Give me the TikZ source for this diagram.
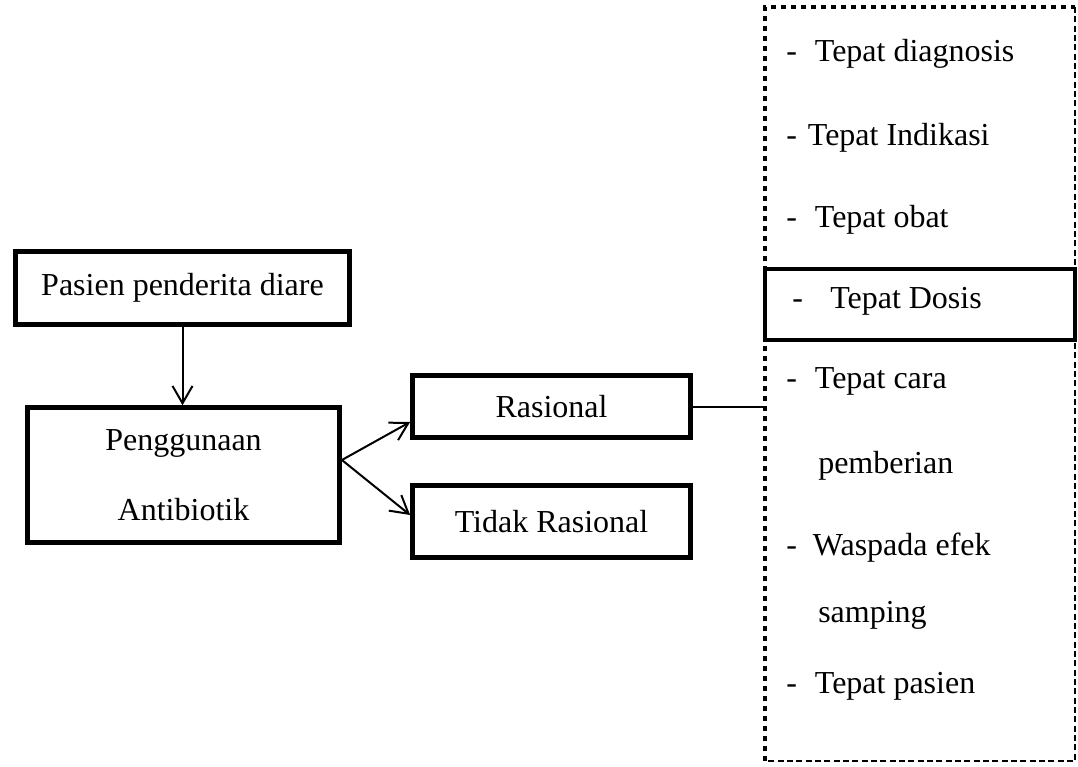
\documentclass[tikz,border=0pt]{standalone}
\usepackage{fontspec}
\setmainfont{Liberation Serif}
\usetikzlibrary{arrows.meta,positioning,calc}
\tikzset{
  box/.style={draw=black, line width=3.6pt, align=center, inner sep=0pt, font=\fontsize{24}{52.5}\selectfont},
  item/.style={anchor=base west, inner sep=0pt, font=\fontsize{24}{28}\selectfont},
  arrow/.style={-{Straight Barb[length=13pt, width=15pt, line width=1.5pt]}, line width=1.5pt, draw=black},
  link/.style={line width=1.5pt, draw=black},
  thickdots/.style={line width=3pt, dash pattern=on 3.75pt off 3.75pt},
  thindash/.style={line width=1.5pt, dash pattern=on 4.5pt off 2.5pt}
}
\begin{document}
\begin{tikzpicture}[x=0.75pt, y=-0.75pt]
  \useasboundingbox (0,0) rectangle (1078,767);

  % left part
  \node[box, minimum width=250.5pt, minimum height=54.75pt] (pasien) at (182.5,288) {Pasien penderita diare};
  \node[box, minimum width=234pt, minimum height=101pt] (guna) at (183.5,475) {Penggunaan\\Antibiotik};
  \node[box, minimum width=208.5pt, minimum height=46.5pt] (rasional) at (551.5,406.5) {Rasional};
  \node[box, minimum width=208.5pt, minimum height=54pt] (tidak) at (551.5,521.5) {Tidak Rasional};

  % criteria frame
  \coordinate (ktl) at (765,7);
  \coordinate (kbr) at (1075,761);
  \draw[thickdots] (ktl |- kbr) -- (ktl) -- (ktl -| kbr);
  \draw[thindash] (ktl -| kbr) -- (kbr) -- (ktl |- kbr);
  \node[draw=black, line width=3pt, inner sep=0pt, minimum width=232.5pt, minimum height=53.25pt] (dosisbox) at (920,304.5) {};

  \node[item] (diagnosis) at (786,62) {-\hspace{13.5pt}Tepat diagnosis};
  \node[item] (indikasi) at (786,145) {-\hspace{8.25pt}Tepat Indikasi};
  \node[item] (obat) at (786,227) {-\hspace{13.5pt}Tepat obat};
  \node[item] (dosis) at (792,308) {-\hspace{20.5pt}Tepat Dosis};
  \node[item] (cara) at (786,388) {-\hspace{13.5pt}Tepat cara};
  \node[item] (pemberian) at (818,473) {pemberian};
  \node[item] (waspada) at (786,555) {-\hspace{12pt}Waspada efek};
  \node[item] (samping) at (818,622) {samping};
  \node[item] (tpasien) at (786,693) {-\hspace{13.5pt}Tepat pasien};

  % connectors
  \coordinate (fork) at ($(guna.east)+(0,-15)$);
  \draw[arrow] (pasien.south) -- (pasien.south |- guna.north);
  \draw[arrow] (fork) -- ($(rasional.west)+(0,15.5)$);
  \draw[arrow] (fork) -- ($(tidak.west)+(0,-6.5)$);
  \draw[link] (rasional.east) -- (rasional.east -| ktl);
\end{tikzpicture}
\end{document}
